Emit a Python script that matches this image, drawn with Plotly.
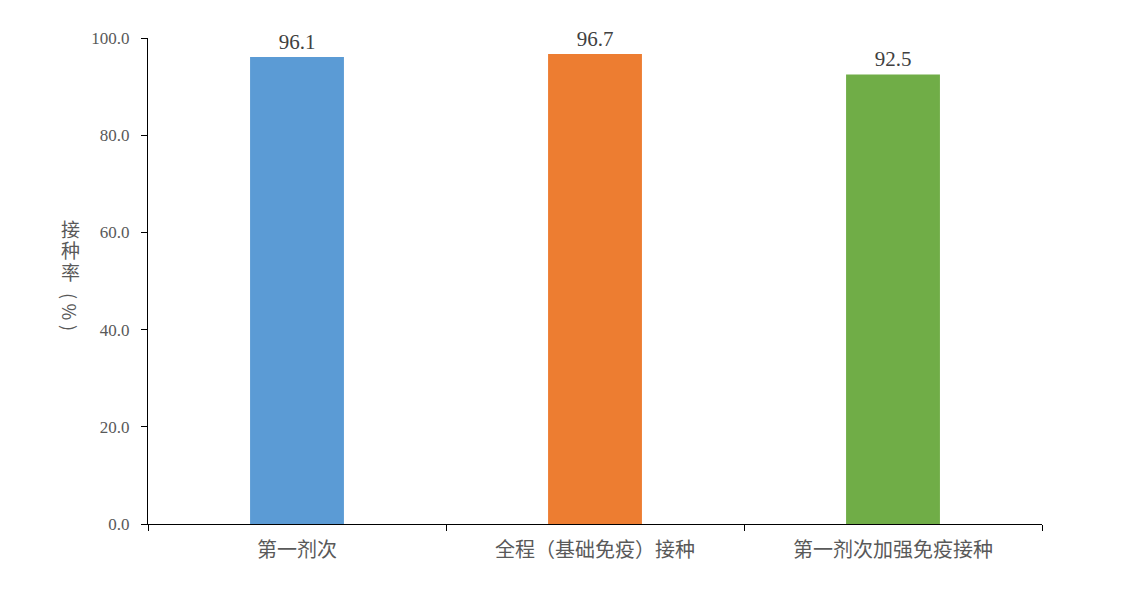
import plotly.graph_objects as go

categories = ["第一剂次", "全程（基础免疫）接种", "第一剂次加强免疫接种"]
values = [96.1, 96.7, 92.5]
colors = ["#5B9BD5", "#ED7D31", "#70AD47"]
y_ticks = [0, 20, 40, 60, 80, 100]
y_title_chars = ["接", "种", "率", "(", "%", ")"]

# plot area in figure pixels (page is offset by 8px body margin)
L, R, T, B = 140, 1034, 30, 516
W, H = 1121, 598

fig = go.Figure()
fig.add_trace(go.Bar(
    x=categories, y=values,
    marker=dict(color=colors, line=dict(width=0)),
    text=[f"{v:.1f}" for v in values],
    textposition="outside",
    textfont=dict(family="Liberation Serif", size=21, color="#404040"),
    cliponaxis=False,
    width=0.315,
))

fig.update_layout(
    width=W, height=H,
    margin=dict(l=L, r=W - R, t=T, b=H - B),
    plot_bgcolor="white", paper_bgcolor="white",
    showlegend=False,
    xaxis=dict(
        type="category",
        showline=True, linecolor="black", linewidth=1,
        ticks="outside", tickson="boundaries", ticklen=6, tickcolor="black",
        tickfont=dict(family="Noto Sans CJK SC", size=20, color="#595959"),
        ticklabelstandoff=8,
        showgrid=False,
    ),
    yaxis=dict(
        range=[0, 100], tickvals=y_ticks, tickformat=".1f",
        showline=True, linecolor="black", linewidth=1,
        ticks="outside", ticklen=6, tickcolor="black",
        tickfont=dict(family="Liberation Serif", size=17, color="#595959"),
        ticklabelstandoff=8,
        showgrid=False, zeroline=False,
    ),
)

# vertical y-axis title, one character per slot (page y centres)
char_y_page = [228, 249.5, 271, 296, 311.5, 328]
title_x_page = 70
for ch, yp in zip(y_title_chars, char_y_page):
    fx = title_x_page - 8
    fy = yp - 8
    rotated = ch in "(%)"
    fig.add_annotation(
        text=ch,
        textangle=90 if rotated else 0,
        xref="paper", yref="paper",
        x=(fx - L) / (R - L), y=(B - fy) / (B - T),
        xanchor="center", yanchor="middle", showarrow=False,
        borderpad=0,
        font=dict(family="Noto Sans CJK SC", size=19 if not rotated else 18,
                  color="#595959"),
    )

fig.write_html("out.html")
